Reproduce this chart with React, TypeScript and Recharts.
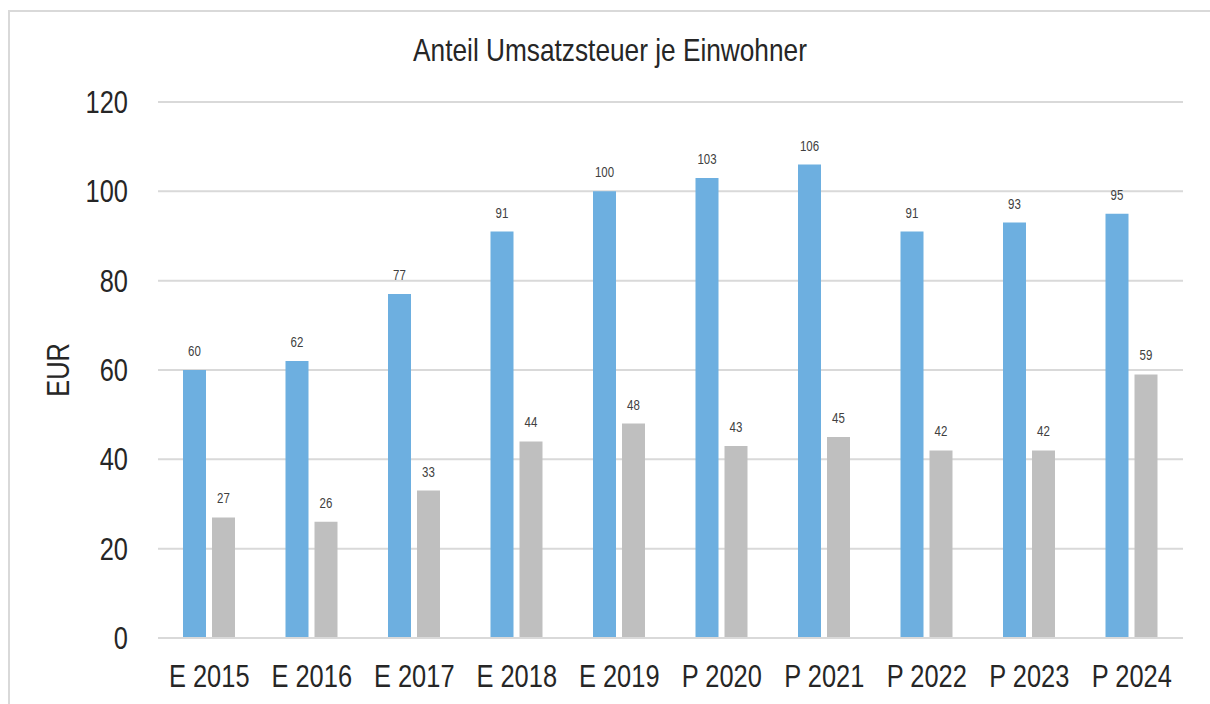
import { Bar, BarChart, CartesianGrid, LabelList, XAxis, YAxis } from 'recharts';

const categories = [
  'E 2015',
  'E 2016',
  'E 2017',
  'E 2018',
  'E 2019',
  'P 2020',
  'P 2021',
  'P 2022',
  'P 2023',
  'P 2024',
];
const gemeindeValues = [60, 62, 77, 91, 100, 103, 106, 91, 93, 95];
const vergleichValues = [27, 26, 33, 44, 48, 43, 45, 42, 42, 59];
const yTicks = [0, 20, 40, 60, 80, 100, 120];

const data = categories.map((name, i) => ({
  name,
  gemeinde: gemeindeValues[i],
  vergleich: vergleichValues[i],
}));

// no narrow font installed, so squeeze Liberation Sans horizontally
const FONT = '"Liberation Sans", Arial, sans-serif';
const SQUEEZE = 0.82;
const BLUE = '#6DAFE0';
const GRAY = '#BFBFBF';

function XTick(props: any) {
  const { x, y, payload } = props;
  return (
    <text
      transform={`translate(${x},${y}) scale(${SQUEEZE},1)`}
      dy="0.71em"
      textAnchor="middle"
      fill="#262626"
      fontSize={31}
      fontFamily={FONT}
    >
      {payload.value}
    </text>
  );
}

function YTick(props: any) {
  const { x, y, payload } = props;
  return (
    <text
      transform={`translate(${x},${y}) scale(${SQUEEZE},1)`}
      dy="0.355em"
      textAnchor="end"
      fill="#262626"
      fontSize={31}
      fontFamily={FONT}
    >
      {payload.value}
    </text>
  );
}

function BarLabel(props: any) {
  const { x, y, width, value } = props;
  return (
    <text
      transform={`translate(${x + width / 2},${y - 14}) scale(${SQUEEZE},1)`}
      textAnchor="middle"
      fill="#404040"
      fontSize={14}
      fontFamily={FONT}
    >
      {value}
    </text>
  );
}

function YLabel() {
  return (
    <text
      transform={`translate(48.5,358) rotate(-90) scale(${SQUEEZE},1)`}
      textAnchor="middle"
      dominantBaseline="central"
      fill="#262626"
      fontSize={31}
      fontFamily={FONT}
    >
      EUR
    </text>
  );
}

export default function App() {
  return (
    <div
      style={{
        position: 'absolute',
        left: 8,
        top: 10,
        width: 1202,
        height: 694,
        boxSizing: 'border-box',
        borderTop: '2px solid #D9D9D9',
        borderLeft: '2px solid #D9D9D9',
        background: '#fff',
      }}
    >
      <div
        style={{
          position: 'absolute',
          top: 22,
          left: 0,
          width: 1200,
          textAlign: 'center',
          fontFamily: FONT,
          fontSize: 32,
          lineHeight: '32px',
          color: '#262626',
          transform: `scaleX(${SQUEEZE})`,
          transformOrigin: '600px 0',
        }}
      >
        Anteil Umsatzsteuer je Einwohner
      </div>
      <BarChart
        width={1200}
        height={692}
        data={data}
        margin={{ top: 90, right: 27, bottom: 6, left: 0 }}
        barSize={23}
        barGap={6}
      >
        <CartesianGrid vertical={false} stroke="#D9D9D9" strokeWidth={2} />
        <XAxis
          dataKey="name"
          height={60}
          axisLine={{ stroke: '#D9D9D9', strokeWidth: 2 }}
          tickLine={false}
          tickSize={0}
          tickMargin={27}
          tick={<XTick />}
          interval={0}
        />
        <YAxis
          width={148}
          domain={[0, 120]}
          ticks={yTicks}
          axisLine={false}
          tickLine={false}
          tickSize={0}
          tickMargin={30}
          tick={<YTick />}
          label={<YLabel />}
        />
        <Bar dataKey="gemeinde" fill={BLUE} isAnimationActive={false}>
          <LabelList dataKey="gemeinde" content={<BarLabel />} />
        </Bar>
        <Bar dataKey="vergleich" fill={GRAY} isAnimationActive={false}>
          <LabelList dataKey="vergleich" content={<BarLabel />} />
        </Bar>
      </BarChart>
    </div>
  );
}
